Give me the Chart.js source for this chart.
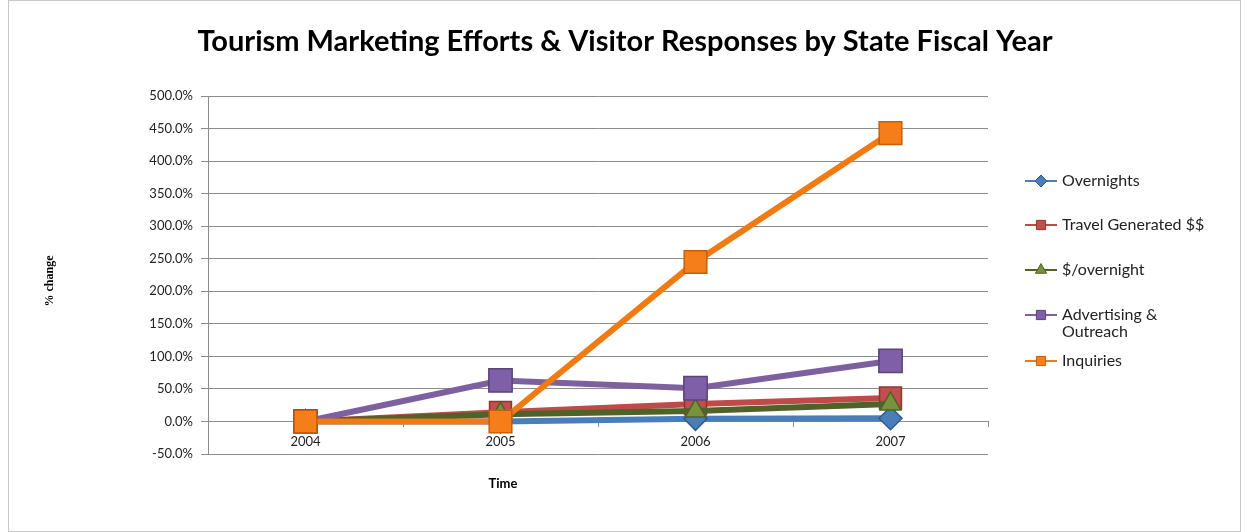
<!DOCTYPE html>
<html>
<head>
<meta charset="utf-8">
<script src="https://cdn.jsdelivr.net/npm/chart.js@4.4.1/dist/chart.umd.min.js"></script>
<style>
  html, body { margin: 0; padding: 0; background: #fff; }
  #wrap { width: 1249px; height: 532px; position: relative; }
</style>
</head>
<body>
<div id="wrap"><canvas id="chart"></canvas></div>
<script>
// Data
const years = ['2004', '2005', '2006', '2007'];
const overnights = [0, 0, 4, 5];
const travelGenerated = [0, 14, 27, 36];
const perOvernight = [0, 11, 16, 27];
const advertising = [0, 63, 51, 93];
const inquiries = [0, 0, 245, 443];

const seriesLabels = ['Overnights', 'Travel Generated $$', '$/overnight', ['Advertising &', 'Outreach'], 'Inquiries'];

const chartTitle = 'Tourism Marketing Efforts & Visitor Responses by State Fiscal Year';
const xTitle = 'Time';
const yTitle = '% change';

const FONT = 'Lato, "Open Sans", sans-serif';

function makeSeries(label, data, line, fill, edge, style, radius, order) {
    return {
        label: Array.isArray(label) ? label.join(' ') : label,
        legendText: label,
        data: data,
        borderColor: line,
        backgroundColor: fill,
        borderWidth: 6,
        pointStyle: style,
        pointRadius: radius,
        pointHoverRadius: radius,
        pointBackgroundColor: fill,
        pointBorderColor: edge,
        pointBorderWidth: 1.5,
        tension: 0,
        fill: false,
        order: order
    };
}

// Titles, outer frame and the legend
const decorations = {
    id: 'decorations',
    afterDraw(chart) {
        const ctx = chart.ctx;
        const area = chart.chartArea;
        ctx.save();

        ctx.strokeStyle = '#c8c8c8';
        ctx.lineWidth = 1;
        ctx.strokeRect(8.5, 0.5, 1232, 531);

        ctx.fillStyle = '#000';
        ctx.textAlign = 'center';
        ctx.textBaseline = 'middle';
        ctx.font = 'bold 29px ' + FONT;
        ctx.fillText(chartTitle, 625, 42);

        ctx.font = 'bold 13px ' + FONT;
        ctx.fillText(xTitle, 503, 484);

        ctx.save();
        ctx.translate(50, 281);
        ctx.rotate(-Math.PI / 2);
        ctx.font = 'bold 12px "Liberation Serif", "DejaVu Serif", serif';
        ctx.fillText(yTitle, 0, 0);
        ctx.restore();

        // legend
        const legendY = [181, 225, 270, 315, 361];
        const x0 = area.right + 37;
        chart.data.datasets.forEach((ds, i) => {
            const y = legendY[i];
            ctx.strokeStyle = ds.borderColor;
            ctx.lineWidth = 2;
            ctx.beginPath();
            ctx.moveTo(x0, y);
            ctx.lineTo(x0 + 32, y);
            ctx.stroke();
            ctx.fillStyle = ds.pointBackgroundColor;
            ctx.strokeStyle = ds.pointBorderColor;
            ctx.lineWidth = 1;
            Chart.helpers.drawPoint(ctx, {
                pointStyle: ds.pointStyle,
                radius: ds.pointStyle === 'rectRot' ? 6 : 6.5,
                borderWidth: 1,
                rotation: 0
            }, x0 + 16, y);
            ctx.fillStyle = '#222';
            ctx.textAlign = 'left';
            ctx.font = '16px ' + FONT;
            const lines = Array.isArray(ds.legendText) ? ds.legendText : [ds.legendText];
            lines.forEach((t, k) => ctx.fillText(t, x0 + 37, y + k * 17));
        });
        ctx.restore();
    }
};

new Chart(document.getElementById('chart'), {
    type: 'line',
    data: {
        labels: years,
        datasets: [
            makeSeries(seriesLabels[0], overnights, '#4A7EBB', '#4A7EBB', '#2F5B8F', 'rectRot', 11.5, 5),
            makeSeries(seriesLabels[1], travelGenerated, '#BE4B48', '#C0504D', '#8E3532', 'rect', 15.5, 4),
            makeSeries(seriesLabels[2], perOvernight, '#4F6228', '#77933C', '#4F6228', 'triangle', 12, 3),
            makeSeries(seriesLabels[3], advertising, '#7D60A0', '#7F5FA8', '#5A4478', 'rect', 16.5, 2),
            makeSeries(seriesLabels[4], inquiries, '#F07B13', '#F57E1A', '#C55F0A', 'rect', 16, 1)
        ]
    },
    options: {
        responsive: true,
        maintainAspectRatio: false,
        animation: false,
        layout: {
            padding: { left: 0, top: 96, right: 261, bottom: 78 }
        },
        plugins: {
            legend: { display: false },
            title: { display: false },
            tooltip: { enabled: false }
        },
        scales: {
            x: {
                type: 'category',
                offset: true,
                position: { y: 0 },
                grid: {
                    drawOnChartArea: false,
                    offset: true,
                    tickLength: 5,
                    color: '#8c8c8c'
                },
                border: { color: '#8c8c8c', width: 1 },
                ticks: {
                    color: '#222',
                    padding: 8,
                    font: { family: FONT, size: 13 }
                }
            },
            y: {
                min: -50,
                max: 500,
                afterFit: (scale) => { scale.width = 208; },
                grid: {
                    color: '#8c8c8c',
                    tickLength: 7
                },
                border: { color: '#8c8c8c', width: 1 },
                ticks: {
                    stepSize: 50,
                    color: '#222',
                    padding: 8,
                    font: { family: FONT, size: 13 },
                    callback: (v) => v.toFixed(1) + '%'
                }
            }
        }
    },
    plugins: [decorations]
});
</script>
</body>
</html>
